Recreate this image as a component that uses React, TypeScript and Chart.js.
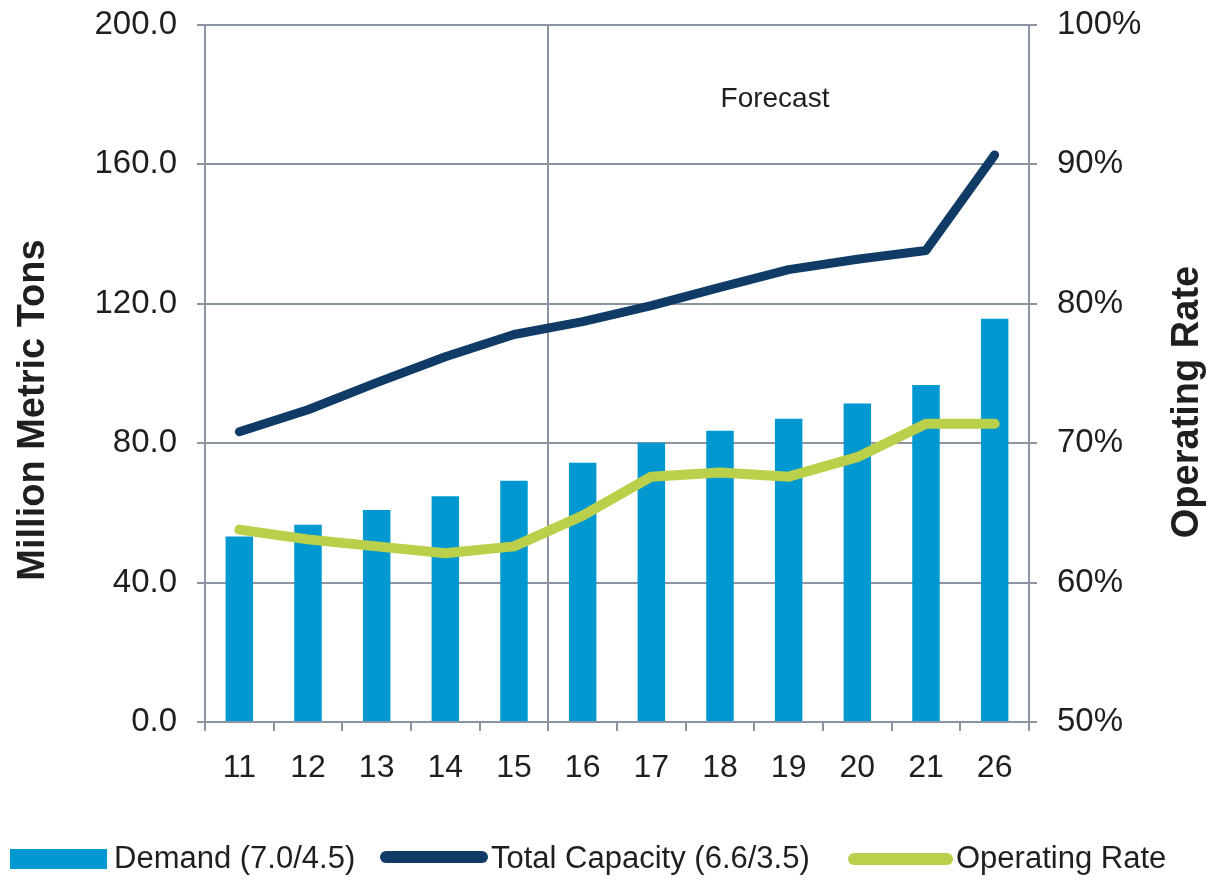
import React, { useEffect, useRef } from 'react';
import { Chart, registerables } from 'chart.js';

Chart.register(...registerables);

// ---- data ----
const categories = ['11', '12', '13', '14', '15', '16', '17', '18', '19', '20', '21', '26'];
const demand = [53.2, 56.6, 60.8, 64.8, 69.2, 74.4, 80.1, 83.6, 87.0, 91.4, 96.7, 115.7];
const totalCapacity = [83.3, 89.6, 97.4, 104.8, 111.2, 114.9, 119.5, 124.7, 129.8, 132.8, 135.3, 162.7];
const operatingRate = [63.8, 63.1, 62.6, 62.1, 62.6, 64.8, 67.6, 67.9, 67.6, 69.0, 71.4, 71.4];
const leftTicks = [0, 40, 80, 120, 160, 200];
const rightTicks = [50, 60, 70, 80, 90, 100];
const seriesLabels = ['Demand (7.0/4.5)', 'Total Capacity (6.6/3.5)', 'Operating Rate'];
const forecastLabel = 'Forecast';
const leftTitle = 'Million Metric Tons';
const rightTitle = 'Operating Rate';

// ---- styles ----
const FONT = "'Liberation Sans', Arial, sans-serif";
const TEXT = '#1f1f1f';
const GRID = '#8a94a3';
const BAR = '#0098d0';
const CAP = '#0f3b66';
const OPR = '#bbd04a';

const overlay = {
  id: 'overlay',
  afterDraw(chart: any) {
    const ctx = chart.ctx as CanvasRenderingContext2D;
    ctx.save();
    ctx.fillStyle = TEXT;
    ctx.textAlign = 'center';
    ctx.textBaseline = 'middle';
    ctx.font = `28px ${FONT}`;
    ctx.fillText(forecastLabel, 775, 99);

    ctx.font = `bold 38px ${FONT}`;
    ctx.save();
    ctx.translate(34, 410);
    ctx.rotate(-Math.PI / 2);
    ctx.fillText(leftTitle, 0, 0);
    ctx.restore();
    ctx.save();
    ctx.translate(1188, 402);
    ctx.rotate(-Math.PI / 2);
    ctx.fillText(rightTitle, 0, 0);
    ctx.restore();

    // legend
    ctx.textAlign = 'left';
    ctx.font = `31px ${FONT}`;
    ctx.fillStyle = BAR;
    ctx.fillRect(10, 849, 97, 20);
    ctx.lineCap = 'round';
    ctx.lineWidth = 12;
    ctx.strokeStyle = CAP;
    ctx.beginPath();
    ctx.moveTo(386, 857);
    ctx.lineTo(482, 857);
    ctx.stroke();
    ctx.strokeStyle = OPR;
    ctx.beginPath();
    ctx.moveTo(854, 859);
    ctx.lineTo(947, 859);
    ctx.stroke();
    ctx.fillStyle = TEXT;
    ctx.fillText(seriesLabels[0], 114, 859);
    ctx.fillText(seriesLabels[1], 491, 859);
    ctx.fillText(seriesLabels[2], 956, 859);
    ctx.restore();
  },
};

export default function App() {
  const ref = useRef<HTMLCanvasElement | null>(null);
  useEffect(() => {
    if (!ref.current) return;
    const chart = new Chart(ref.current, {
      type: 'bar',
      data: {
        labels: categories,
        datasets: [
          {
            type: 'line',
            label: seriesLabels[2],
            data: operatingRate,
            yAxisID: 'y1',
            borderColor: OPR,
            backgroundColor: OPR,
            borderWidth: 10,
            pointRadius: 0,
            tension: 0,
            borderJoinStyle: 'round',
            borderCapStyle: 'round',
            order: 1,
          } as any,
          {
            type: 'line',
            label: seriesLabels[1],
            data: totalCapacity,
            yAxisID: 'y',
            borderColor: CAP,
            backgroundColor: CAP,
            borderWidth: 9,
            pointRadius: 0,
            tension: 0,
            borderJoinStyle: 'round',
            borderCapStyle: 'round',
            order: 2,
          } as any,
          {
            type: 'bar',
            label: seriesLabels[0],
            data: demand,
            yAxisID: 'y',
            backgroundColor: BAR,
            categoryPercentage: 1,
            barPercentage: 0.4,
            order: 3,
          } as any,
        ],
      },
      options: {
        animation: false,
        responsive: true,
        maintainAspectRatio: false,
        layout: { padding: { top: 25, left: 0, right: 0, bottom: 0 } },
        plugins: { legend: { display: false }, tooltip: { enabled: false } },
        scales: {
          x: {
            type: 'category',
            offset: true,
            grid: {
              offset: true,
              color: (c: any) => (c.index === 5 ? GRID : 'rgba(0,0,0,0)'),
              lineWidth: 2,
              tickLength: 9,
              tickColor: GRID,
              tickWidth: 2,
            },
            border: { display: true, color: GRID, width: 2 },
            ticks: { color: TEXT, font: { family: FONT, size: 32 }, padding: 18, maxRotation: 0 },
            afterFit: (s: any) => { s.height = 158; s.paddingLeft = 0; s.paddingRight = 0; },
          },
          y: {
            position: 'left',
            min: 0,
            max: 200,
            afterBuildTicks: (s: any) => { s.ticks = leftTicks.map((v) => ({ value: v })); },
            grid: { color: GRID, lineWidth: 2, tickLength: 8, tickColor: GRID },
            border: { display: true, color: GRID, width: 2 },
            ticks: {
              color: TEXT,
              font: { family: FONT, size: 33 },
              padding: 20,
              callback: (v: any) => Number(v).toFixed(1),
            },
            afterFit: (s: any) => { s.width = 205; s.paddingTop = 0; s.paddingBottom = 0; },
          },
          y1: {
            position: 'right',
            min: 50,
            max: 100,
            afterBuildTicks: (s: any) => { s.ticks = rightTicks.map((v) => ({ value: v })); },
            grid: { drawOnChartArea: false, color: GRID, lineWidth: 2, tickLength: 8, tickColor: GRID },
            border: { display: true, color: GRID, width: 2 },
            ticks: {
              color: TEXT,
              font: { family: FONT, size: 33 },
              padding: 20,
              callback: (v: any) => `${v}%`,
            },
            afterFit: (s: any) => { s.width = 182; s.paddingTop = 0; s.paddingBottom = 0; },
          },
        },
      },
      plugins: [overlay],
    });
    return () => chart.destroy();
  }, []);

  return (
    <div style={{ position: 'fixed', left: 0, top: 0, width: 1211, height: 880, background: '#fff' }}>
      <canvas ref={ref} />
    </div>
  );
}
